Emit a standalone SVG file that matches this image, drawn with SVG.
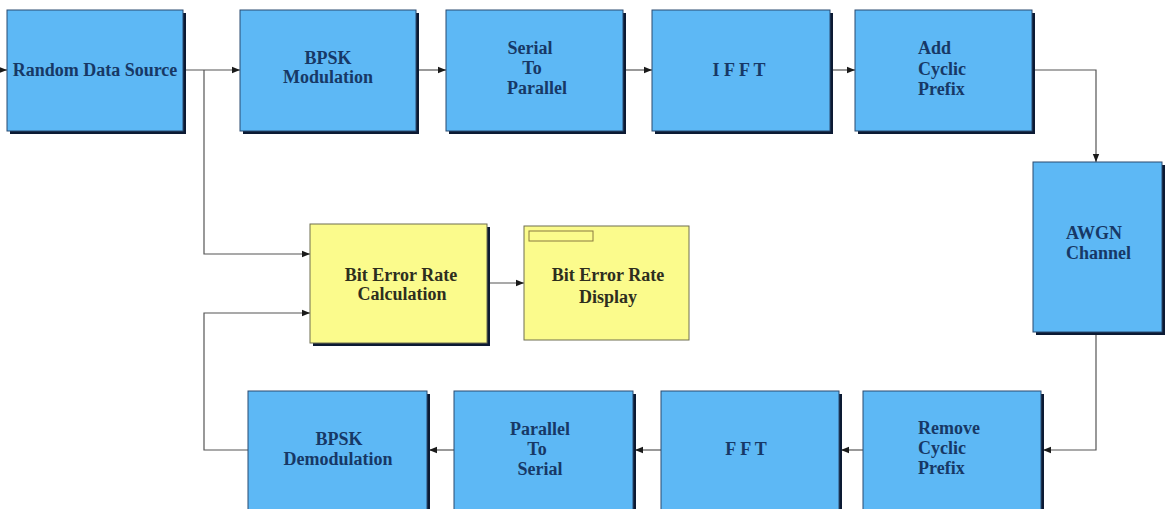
<svg xmlns="http://www.w3.org/2000/svg" width="1171" height="509" viewBox="0 0 1171 509">
  <defs>
    <marker id="arrow" viewBox="0 0 8 8" refX="8" refY="4" markerWidth="8" markerHeight="8" markerUnits="userSpaceOnUse" orient="auto">
      <path d="M0,0.8 L8,4 L0,7.2 Z" fill="#1a1a1a"/>
    </marker>
  </defs>
  <style>
    .blk { fill: #5db8f5; stroke: #2b4a70; stroke-width: 1; }
    .shd { fill: #0c1a33; }
    .ber { fill: #fbfb8c; stroke: #6f6f50; stroke-width: 1; }
    .lbl { font-family: "Liberation Serif", "Times New Roman", serif; font-weight: bold; font-size: 18px; fill: #173866; }
    .lbly { font-family: "Liberation Serif", "Times New Roman", serif; font-weight: bold; font-size: 18px; fill: #2e2e1e; }
    .wire { fill: none; stroke: #555555; stroke-width: 1.2; }
  </style>
  <rect width="1171" height="509" fill="#ffffff"/>

  <!-- connectors -->
  <g id="connectors">
    <path class="wire" d="M0,70 L7,70" marker-end="url(#arrow)"/>
    <path class="wire" d="M183,70 L240,70" marker-end="url(#arrow)"/>
    <path class="wire" d="M204,70 L204,254 L310,254" marker-end="url(#arrow)"/>
    <path class="wire" d="M419,70 L446,70" marker-end="url(#arrow)"/>
    <path class="wire" d="M626,70 L652,70" marker-end="url(#arrow)"/>
    <path class="wire" d="M833,70 L855,70" marker-end="url(#arrow)"/>
    <path class="wire" d="M1035,70 L1096,70 L1096,162" marker-end="url(#arrow)"/>
    <path class="wire" d="M1096,335 L1096,450 L1043,450" marker-end="url(#arrow)"/>
    <path class="wire" d="M863,450 L841,450" marker-end="url(#arrow)"/>
    <path class="wire" d="M661,450 L635,450" marker-end="url(#arrow)"/>
    <path class="wire" d="M454,450 L429,450" marker-end="url(#arrow)"/>
    <path class="wire" d="M248,450 L204,450 L204,313 L310,313" marker-end="url(#arrow)"/>
    <path class="wire" d="M490,283 L524,283" marker-end="url(#arrow)"/>
  </g>

  <!-- top row -->
  <g id="random-data-source">
    <rect class="shd" x="10" y="13" width="176" height="121"/>
    <rect class="blk" x="7" y="10" width="176" height="121"/>
    <text class="lbl" x="95" y="76" text-anchor="middle">Random Data Source</text>
  </g>
  <g id="bpsk-modulation">
    <rect class="shd" x="243" y="13" width="176" height="121"/>
    <rect class="blk" x="240" y="10" width="176" height="121"/>
    <text class="lbl" text-anchor="middle"><tspan x="328" y="64">BPSK</tspan><tspan x="328" y="83">Modulation</tspan></text>
  </g>
  <g id="serial-to-parallel">
    <rect class="shd" x="449" y="13" width="177" height="121"/>
    <rect class="blk" x="446" y="10" width="177" height="121"/>
    <text class="lbl" text-anchor="middle"><tspan x="530" y="54">Serial</tspan><tspan x="532" y="74">To</tspan><tspan x="537" y="94">Parallel</tspan></text>
  </g>
  <g id="ifft">
    <rect class="shd" x="655" y="13" width="178" height="121"/>
    <rect class="blk" x="652" y="10" width="178" height="121"/>
    <text class="lbl" x="739" y="76" text-anchor="middle">I F F T</text>
  </g>
  <g id="add-cyclic-prefix">
    <rect class="shd" x="858" y="13" width="177" height="121"/>
    <rect class="blk" x="855" y="10" width="177" height="121"/>
    <text class="lbl"><tspan x="918" y="54">Add</tspan><tspan x="918" y="75">Cyclic</tspan><tspan x="918" y="95">Prefix</tspan></text>
  </g>

  <!-- channel -->
  <g id="awgn-channel">
    <rect class="shd" x="1036" y="165" width="129" height="170"/>
    <rect class="blk" x="1033" y="162" width="129" height="170"/>
    <text class="lbl"><tspan x="1066" y="239">AWGN</tspan><tspan x="1066" y="259">Channel</tspan></text>
  </g>

  <!-- bit error rate -->
  <g id="ber-calculation">
    <rect class="shd" x="313" y="227" width="177" height="119"/>
    <rect class="ber" x="310" y="224" width="177" height="119"/>
    <text class="lbly" text-anchor="middle"><tspan x="401" y="281">Bit Error Rate</tspan><tspan x="402" y="300">Calculation</tspan></text>
  </g>
  <g id="ber-display">
    <rect class="ber" x="524" y="226" width="165" height="114"/>
    <rect x="529" y="231" width="64" height="10" fill="#fbfb8c" stroke="#8a7a40" stroke-width="1"/>
    <text class="lbly" text-anchor="middle"><tspan x="608" y="281">Bit Error Rate</tspan><tspan x="608" y="303">Display</tspan></text>
  </g>

  <!-- bottom row -->
  <g id="remove-cyclic-prefix">
    <rect class="shd" x="866" y="394" width="178" height="121"/>
    <rect class="blk" x="863" y="391" width="178" height="121"/>
    <text class="lbl"><tspan x="918" y="434">Remove</tspan><tspan x="918" y="454">Cyclic</tspan><tspan x="918" y="474">Prefix</tspan></text>
  </g>
  <g id="fft">
    <rect class="shd" x="664" y="394" width="178" height="121"/>
    <rect class="blk" x="661" y="391" width="178" height="121"/>
    <text class="lbl" x="746" y="455" text-anchor="middle">F F T</text>
  </g>
  <g id="parallel-to-serial">
    <rect class="shd" x="457" y="394" width="179" height="121"/>
    <rect class="blk" x="454" y="391" width="179" height="121"/>
    <text class="lbl" text-anchor="middle"><tspan x="540" y="435">Parallel</tspan><tspan x="537" y="455">To</tspan><tspan x="540" y="475">Serial</tspan></text>
  </g>
  <g id="bpsk-demodulation">
    <rect class="shd" x="251" y="394" width="179" height="121"/>
    <rect class="blk" x="248" y="391" width="179" height="121"/>
    <text class="lbl" text-anchor="middle"><tspan x="339" y="445">BPSK</tspan><tspan x="338" y="465">Demodulation</tspan></text>
  </g>
</svg>
